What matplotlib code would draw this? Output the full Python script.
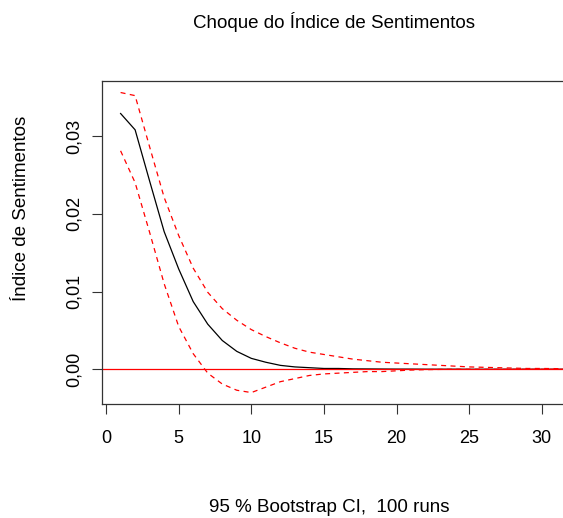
import numpy as np
import matplotlib
matplotlib.use("Agg")
import matplotlib.pyplot as plt

plt.rcParams['font.family'] = ['Liberation Sans', 'DejaVu Sans']

# horizons 1..33
irf = [0.0329, 0.0308, 0.0242, 0.0177, 0.0129, 0.0087, 0.0058, 0.0037, 0.0023, 0.0014,
       0.0009, 0.0005, 0.0003, 0.0002, 0.0001, 0.0001, 0.00005, 0.00004, 0.00003, 0.00002,
       0.00002, 0.00001, 0.00001, 0.00001, 0.0, 0.0, 0.0, 0.0, 0.0, 0.0,
       0.0, 0.0, 0.0]
upper = [0.0356, 0.0352, 0.0286, 0.0221, 0.0172, 0.0130, 0.0099, 0.0078, 0.0063, 0.0051,
         0.0042, 0.0034, 0.0027, 0.0022, 0.0019, 0.0016, 0.0013, 0.0011, 0.0009, 0.0008,
         0.0007, 0.0006, 0.0005, 0.0004, 0.0003, 0.00025, 0.0002, 0.00015, 0.0001, 0.0001,
         0.00008, 0.00006, 0.00005]
lower = [0.0281, 0.0240, 0.0176, 0.0110, 0.0055, 0.0020, -0.0005, -0.0019, -0.0027, -0.0030,
         -0.0023, -0.0016, -0.0012, -0.0008, -0.0006, -0.0005, -0.0004, -0.0003, -0.0003, -0.0002,
         -0.0001, -0.00005, -0.00002, 0.0, 0.0, 0.0, 0.0, 0.0, 0.0, 0.0,
         0.0, 0.0, 0.0]
horizon = np.arange(1, len(irf) + 1)

xticks = [0, 5, 10, 15, 20, 25, 30]
yticks = [0.0, 0.01, 0.02, 0.03]
ylabels = ['0,00', '0,01', '0,02', '0,03']

W, H = 563, 518
fig = plt.figure(figsize=(W / 100, H / 100), dpi=100)
# plot region: left edge at 102px, right edge falls outside the picture
ax = fig.add_axes([102 / W, 1 - 404 / H, 502 / W, (404 - 80.7) / H])

ax.plot(horizon, irf, color='black', lw=0.9)
ax.plot(horizon, upper, color='red', lw=0.9, ls=(0, (4, 3.5)))
ax.plot(horizon, lower, color='red', lw=0.9, ls=(0, (4, 3.5)))
ax.axhline(0, color='red', lw=0.9)

ax.set_xlim(-0.28, 34.28)
ax.set_ylim(-0.00447, 0.03712)
ax.set_xticks(xticks)
ax.set_xticklabels([str(t) for t in xticks], fontsize=13)
ax.set_yticks(yticks)
ax.set_yticklabels(ylabels, fontsize=13, rotation=90, va='center')
ax.tick_params(direction='out', length=7, width=0.8, color='#333333', pad=12)
ax.tick_params(axis='y', pad=7)
for sp in ax.spines.values():
    sp.set_color('#333333')
    sp.set_linewidth(0.9)

fig.text(334 / W, 1 - 22 / H, 'Choque do Índice de Sentimentos', ha='center', va='center', fontsize=13.5)
fig.text(22 / W, 1 - 208 / H, 'Índice de Sentimentos', ha='center', va='center',
         rotation=90, fontsize=13.5)
fig.text(329 / W, 1 - 507 / H, '95 % Bootstrap CI,  100 runs', ha='center', va='center', fontsize=13.5)

fig.savefig('out.png', dpi=100)
